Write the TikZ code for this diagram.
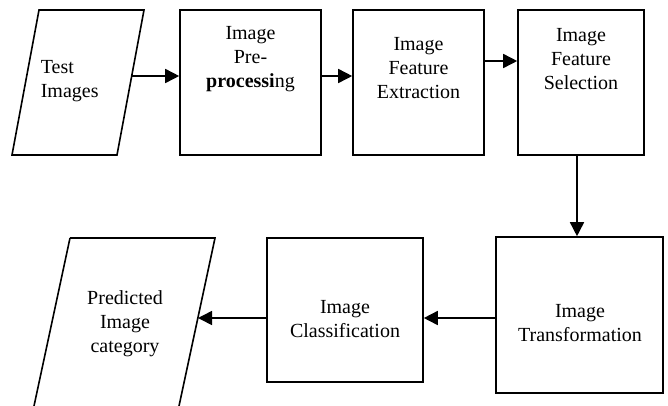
\documentclass[tikz,border=0pt]{standalone}
\usepackage{fontspec}
\setmainfont{LiberationSerif}[Extension=.ttf,UprightFont=*-Regular,BoldFont=*-Bold,ItalicFont=*-Italic,BoldItalicFont=*-BoldItalic]
\usetikzlibrary{arrows.meta}
\begin{document}
\begin{tikzpicture}[x=1pt,y=-1pt,
  line width=1.6pt,
  box/.style={draw,line width=1.6pt,inner sep=0pt},
  txt/.style={align=center,inner sep=0pt,font=\rmfamily\fontsize{20}{24}\selectfont},
  arr/.style={-{Triangle[length=14pt,width=14pt]},line width=1.6pt}]
\useasboundingbox (0,0) rectangle (668,405);
\clip (0,0) rectangle (668,405);
% parallelograms
\draw[line join=miter] (39,10) -- (144,10) -- (117,155) -- (12,155) -- cycle;
\node[txt,align=left,anchor=west] (ttest) at (40,81) {Test\\Images};
\coordinate (testout) at (132,76);
\draw (70,238) -- (215,238) -- (176,420) -- (31,420);
\draw (70,238) -- (31,420);
\node[txt] (tpred) at (125,324) {Predicted\\Image\\category};
\coordinate (predin) at (198,318);
% boxes
\node[box,minimum width=141pt,minimum height=145pt] (pre) at (250.5,82.5) {};
\node[txt] (tpre) at (250.5,59) {Image\\Pre-\\\textbf{processi}ng};
\node[box,minimum width=131pt,minimum height=145pt] (ext) at (418.5,82.5) {};
\node[txt] (text) at (418.5,68) {Image\\Feature\\Extraction};
\node[box,minimum width=126pt,minimum height=145pt] (sel) at (581,82.5) {};
\node[txt] (tsel) at (581,59) {Image\\Feature\\Selection};
\node[box,minimum width=167pt,minimum height=156pt] (trans) at (579.5,315) {};
\node[txt] (ttrans) at (580,323) {Image\\Transformation};
\node[box,minimum width=156pt,minimum height=144pt] (cls) at (345,310) {};
\node[txt] (tcls) at (345,319) {Image\\Classification};
% connectors
\draw[arr] (testout) -- (testout -| pre.west);
\draw[arr] ([yshift=6.5pt]pre.east) -- ([yshift=6.5pt]ext.west);
\draw[arr] ([yshift=21.5pt]ext.east) -- ([yshift=21.5pt]sel.west);
\draw[arr] ([xshift=-4pt]sel.south) -- ([xshift=-4pt]sel.south |- trans.north);
\draw[arr] ([yshift=-3pt]trans.west) -- ([yshift=-3pt]trans.west -| cls.east);
\draw[arr] ([yshift=-8pt]cls.west) -- (predin);
\end{tikzpicture}
\end{document}
